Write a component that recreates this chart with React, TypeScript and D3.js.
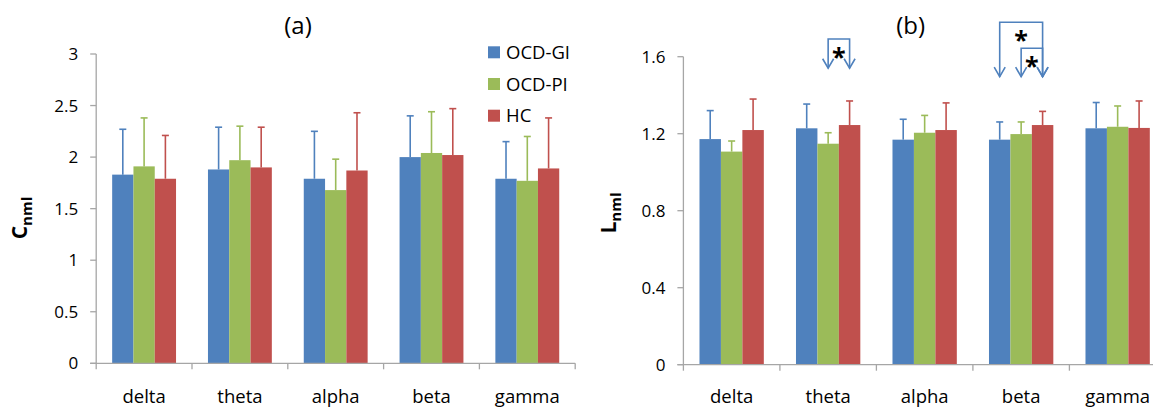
import React from "react";
import * as d3 from "d3";

const categories = ["delta", "theta", "alpha", "beta", "gamma"];
const seriesNames = ["OCD-GI", "OCD-PI", "HC"];
const seriesColors = ["#4F81BD", "#9BBB59", "#C0504D"];

// Panel (a): C_nml
const cGI = [1.83, 1.88, 1.79, 2.0, 1.79];
const cPI = [1.91, 1.97, 1.68, 2.04, 1.77];
const cHC = [1.79, 1.9, 1.87, 2.02, 1.89];
const cGIsd = [0.44, 0.41, 0.46, 0.4, 0.36];
const cPIsd = [0.47, 0.33, 0.3, 0.4, 0.43];
const cHCsd = [0.42, 0.39, 0.56, 0.45, 0.49];
const cTicks = [0, 0.5, 1, 1.5, 2, 2.5, 3];

// Panel (b): L_nml
const lGI = [1.172, 1.228, 1.169, 1.169, 1.228];
const lPI = [1.107, 1.148, 1.205, 1.198, 1.236];
const lHC = [1.219, 1.245, 1.219, 1.245, 1.23];
const lGIsd = [0.148, 0.126, 0.106, 0.092, 0.134];
const lPIsd = [0.055, 0.057, 0.09, 0.063, 0.108];
const lHCsd = [0.161, 0.125, 0.141, 0.071, 0.14];
const lTicks = [0, 0.4, 0.8, 1.2, 1.6];

// significance brackets in panel (b)
const sigBrackets = [
  { cat: "theta", from: "OCD-PI", to: "HC", top: 1.692, tip: 1.54 },
  { cat: "beta", from: "OCD-GI", to: "HC", top: 1.779, tip: 1.496 },
  { cat: "beta", from: "OCD-PI", to: "HC", top: 1.644, tip: 1.496 },
];

const FONT = "'Open Sans', sans-serif";
const AXIS = "#A6A6A6";

type PanelProps = {
  x0: number;
  x1: number;
  yBottom: number;
  yTop: number;
  max: number;
  ticks: number[];
  means: number[][];
  sds: number[][];
  title: string;
  titleX: number;
  label: string;
  labelX: number;
  labelY: number;
  tickFmt: (v: number) => string;
  brackets?: typeof sigBrackets;
};

function Panel(p: PanelProps) {
  const x = d3.scaleBand<string>().domain(categories).range([p.x0, p.x1]).padding(0);
  const inner = d3
    .scaleBand<string>()
    .domain(seriesNames)
    .range([0, x.bandwidth()])
    .paddingInner(0)
    .paddingOuter(0.75);
  const y = d3.scaleLinear().domain([0, p.max]).range([p.yBottom, p.yTop]);
  const bw = inner.bandwidth();
  const center = (cat: string, s: string) => (x(cat) as number) + (inner(s) as number) + bw / 2;

  return (
    <g fontFamily={FONT}>
      <text x={p.titleX} y={34} fontSize={24} textAnchor="middle" fill="#000">
        {p.title}
      </text>
      {/* y axis */}
      <line x1={p.x0} x2={p.x0} y1={y(0)} y2={y(p.max)} stroke={AXIS} strokeWidth={1.3} />
      {p.ticks.map((t) => (
        <g key={t}>
          <line x1={p.x0 - 6} x2={p.x0} y1={y(t)} y2={y(t)} stroke={AXIS} strokeWidth={1.3} />
          <text x={p.x0 - 18} y={y(t)} dy="0.36em" fontSize={17} textAnchor="end" fill="#000">
            {p.tickFmt(t)}
          </text>
        </g>
      ))}
      {/* bars */}
      {seriesNames.map((s, si) =>
        categories.map((c, ci) => (
          <rect
            key={s + c}
            x={(x(c) as number) + (inner(s) as number)}
            y={y(p.means[si][ci])}
            width={bw}
            height={y(0) - y(p.means[si][ci])}
            fill={seriesColors[si]}
          />
        ))
      )}
      {/* error bars */}
      {seriesNames.map((s, si) =>
        categories.map((c, ci) => {
          const cx = center(c, s);
          const top = y(p.means[si][ci] + p.sds[si][ci]);
          return (
            <g key={"e" + s + c} stroke={seriesColors[si]} strokeWidth={1.6}>
              <line x1={cx} x2={cx} y1={y(p.means[si][ci])} y2={top} />
              <line x1={cx - 3.5} x2={cx + 3.5} y1={top} y2={top} />
            </g>
          );
        })
      )}
      {/* x axis */}
      <line x1={p.x0 - 6} x2={p.x1} y1={y(0)} y2={y(0)} stroke={AXIS} strokeWidth={1.3} />
      {categories.concat([""]).map((c, i) => {
        const tx = p.x0 + i * x.bandwidth();
        return <line key={"xt" + i} x1={tx} x2={tx} y1={y(0)} y2={y(0) + 6} stroke={AXIS} strokeWidth={1.3} />;
      })}
      {categories.map((c) => (
        <text
          key={"xl" + c}
          x={(x(c) as number) + x.bandwidth() / 2}
          y={403}
          fontSize={18.5}
          textAnchor="middle"
          fill="#000"
        >
          {c}
        </text>
      ))}
      {/* y label */}
      <text
        transform={`translate(${p.labelX},${p.labelY}) rotate(-90)`}
        textAnchor="middle"
        fontWeight="bold"
        fontSize={21}
        fill="#000"
      >
        {p.label}
        <tspan fontSize={15} dy="5">
          nml
        </tspan>
      </text>
      {/* significance */}
      {(p.brackets || []).map((b, i) => {
        const xa = center(b.cat, b.from);
        const xb = center(b.cat, b.to);
        const yt = y(b.top);
        const yp = y(b.tip);
        const arrow = (ax: number) => `M${ax - 5.5},${yp - 9.5} L${ax},${yp} L${ax + 5.5},${yp - 9.5}`;
        return (
          <g key={"sig" + i} stroke="#4F81BD" strokeWidth={1.6} fill="none">
            <path d={`M${xa},${yp} L${xa},${yt} L${xb},${yt} L${xb},${yp}`} />
            <path d={arrow(xa)} />
            <path d={arrow(xb)} />
            <text
              x={(xa + xb) / 2}
              y={yt + 27}
              fontSize={25}
              fontWeight="bold"
              textAnchor="middle"
              fill="#000"
              stroke="none"
            >
              *
            </text>
          </g>
        );
      })}
    </g>
  );
}

export default function App() {
  const fmtA = (v: number) => String(v);
  const fmtB = (v: number) => (v === 0 ? "0" : v.toFixed(1));
  return (
    <svg
      width={1153}
      height={407}
      style={{ position: "absolute", left: 0, top: 0, background: "#fff" }}
    >
      <rect width={1153} height={407} fill="#fff" />
      <Panel
        x0={96.2}
        x1={575.2}
        yBottom={363.3}
        yTop={54}
        max={3}
        ticks={cTicks}
        means={[cGI, cPI, cHC]}
        sds={[cGIsd, cPIsd, cHCsd]}
        title="(a)"
        titleX={298}
        label="C"
        labelX={27}
        labelY={218}
        tickFmt={fmtA}
      />
      <Panel
        x0={683.4}
        x1={1165.9}
        yBottom={364.7}
        yTop={56.7}
        max={1.6}
        ticks={lTicks}
        means={[lGI, lPI, lHC]}
        sds={[lGIsd, lPIsd, lHCsd]}
        title="(b)"
        titleX={910.7}
        label="L"
        labelX={616}
        labelY={213}
        tickFmt={fmtB}
        brackets={sigBrackets}
      />
      {/* legend */}
      <g fontFamily={FONT}>
        {seriesNames.map((s, i) => (
          <g key={s} transform={`translate(488,${52.3 + i * 31.7})`}>
            <rect x={0} y={-6} width={12} height={12} fill={seriesColors[i]} />
            <text x={18} y={0} dy="0.36em" fontSize={18.5} fill="#000">
              {s}
            </text>
          </g>
        ))}
      </g>
    </svg>
  );
}
